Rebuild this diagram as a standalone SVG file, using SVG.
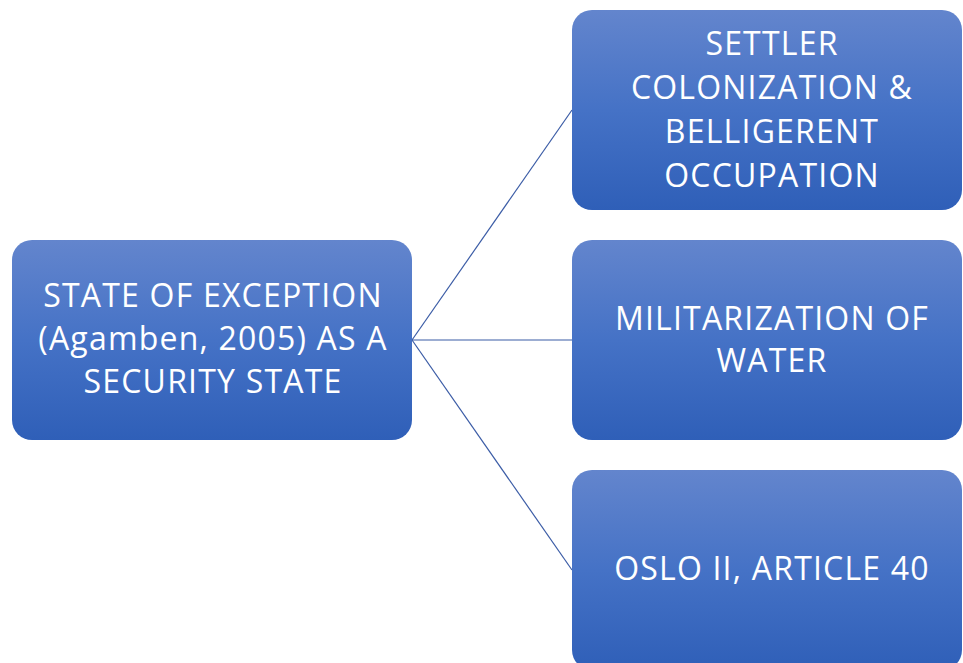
<svg xmlns="http://www.w3.org/2000/svg" width="963" height="663" viewBox="0 0 963 663">
  <style>
    .box { fill: url(#blueFill); }
    .label { fill: #ffffff; font-family: "Open Sans", "Liberation Sans", Arial, sans-serif; font-size: 32px; letter-spacing: 1.2px; text-anchor: middle; }
    .link { stroke: #3b5ca6; stroke-width: 1.2; fill: none; }
  </style>
  <defs>
    <linearGradient id="blueFill" x1="0" y1="0" x2="0" y2="1">
      <stop offset="0" stop-color="#6385cd"/>
      <stop offset="0.5" stop-color="#4572c6"/>
      <stop offset="1" stop-color="#2f5fb8"/>
    </linearGradient>
  </defs>

  <rect width="963" height="663" fill="#ffffff"/>

  <!-- connectors from the root node to each branch -->
  <g id="connectors">
    <line class="link" x1="412" y1="340" x2="572" y2="110"/>
    <line class="link" x1="412" y1="340" x2="572" y2="340"/>
    <line class="link" x1="412" y1="340" x2="572" y2="570"/>
  </g>

  <g id="root">
    <rect class="box" x="12" y="240" width="400" height="200" rx="20" ry="20"/>
    <text class="label" x="213" y="307">STATE OF EXCEPTION</text>
    <text class="label" x="213" y="350">(Agamben, 2005) AS A</text>
    <text class="label" x="213" y="393">SECURITY STATE</text>
  </g>

  <g id="settler">
    <rect class="box" x="572" y="10" width="390" height="200" rx="20" ry="20"/>
    <text class="label" x="772" y="55">SETTLER</text>
    <text class="label" x="772" y="99">COLONIZATION &amp;</text>
    <text class="label" x="772" y="143">BELLIGERENT</text>
    <text class="label" x="772" y="187">OCCUPATION</text>
  </g>

  <g id="militarization">
    <rect class="box" x="572" y="240" width="390" height="200" rx="20" ry="20"/>
    <text class="label" x="772" y="330">MILITARIZATION OF</text>
    <text class="label" x="772" y="372">WATER</text>
  </g>

  <g id="oslo">
    <rect class="box" x="572" y="470" width="390" height="200" rx="20" ry="20"/>
    <text class="label" x="772" y="580">OSLO II, ARTICLE 40</text>
  </g>
</svg>
